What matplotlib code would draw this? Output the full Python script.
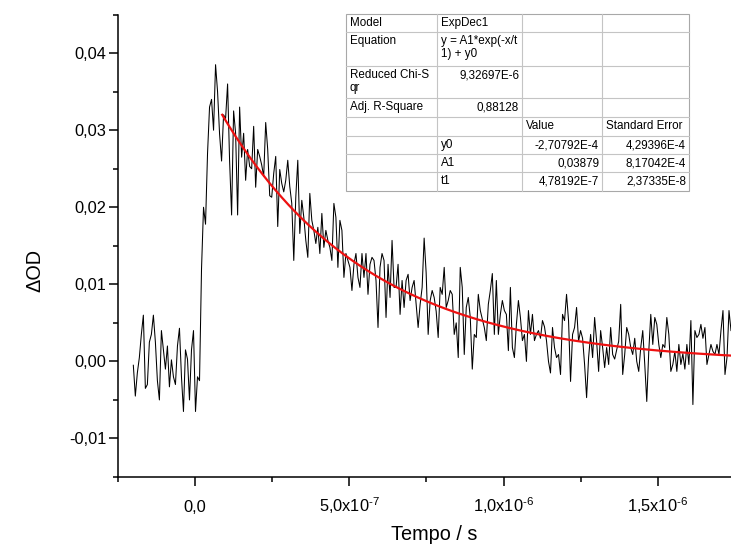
import numpy as np
import matplotlib.pyplot as plt
from matplotlib.ticker import MultipleLocator, FuncFormatter
from matplotlib.lines import Line2D
from matplotlib.patches import Rectangle

plt.rcParams['font.family'] = ['Liberation Sans', 'DejaVu Sans']
plt.rcParams['mathtext.fontset'] = 'custom'
plt.rcParams['mathtext.rm'] = 'Liberation Sans'
plt.rcParams['mathtext.default'] = 'regular'
plt.rcParams['axes.unicode_minus'] = False

# transient absorption trace (dOD in units of 1e-3), evenly sampled in time
t_start = -2.0e-7
t_step = 6.5e-9
dod_milli = [
    -0.5, -4.5, -1.5, 0.5, 3.5, 6.0, -3.5, -3.0, 2.5, 3.5,
    6.0, 2.5, -2.5, -5.0, 4.0, 1.5, -1.0, 2.0, -3.3, 0.2,
    -2.0, -3.0, 2.0, 4.3, -2.0, -6.5, 1.5, 0.3, -5.0, 1.5,
    4.0, -6.5, -2.0, -2.5, 12.0, 20.0, 17.8, 27.0, 33.0, 34.0,
    30.0, 38.5, 35.0, 29.5, 26.0, 32.0, 31.5, 36.0, 26.0, 19.0,
    32.5, 29.6, 19.0, 33.0, 26.5, 29.6, 23.5, 27.5, 25.3, 25.0,
    30.5, 22.6, 27.5, 26.6, 25.5, 24.0, 31.0, 27.5, 21.5, 21.3,
    24.4, 26.6, 17.5, 24.9, 23.1, 22.0, 23.5, 26.1, 22.7, 20.5,
    13.1, 21.3, 26.1, 16.6, 20.9, 18.7, 15.7, 13.5, 21.8, 18.3,
    17.0, 15.3, 17.4, 14.0, 19.2, 14.8, 17.0, 15.7, 14.8, 13.1,
    20.5, 18.7, 12.2, 18.3, 17.0, 10.9, 14.0, 13.1, 12.2, 9.2,
    12.6, 14.0, 10.9, 9.6, 14.0, 10.9, 14.0, 8.7, 12.6, 13.5,
    13.1, 10.5, 4.4, 12.2, 14.0, 13.1, 5.7, 12.6, 8.3, 15.7,
    9.6, 9.6, 12.6, 6.1, 10.5, 7.0, 10.5, 11.3, 7.9, 9.6,
    10.5, 7.5, 4.4, 7.4, 9.6, 16.0, 11.5, 3.5, 7.9, 9.2,
    8.3, 6.5, 3.1, 9.6, 8.7, 12.2, 7.0, 7.9, 9.2, 8.7,
    3.5, 5.0, 0.5, 12.2, 9.6, 0.9, 7.0, 8.3, 5.7, -1.0,
    3.5, 3.1, 8.7, 6.6, 5.5, 4.4, 2.7, 7.4, 9.2, 11.4,
    3.5, 10.5, 3.5, 6.1, 7.9, 6.6, 6.1, 1.4, 9.6, 1.8,
    0.5, 4.8, 7.9, 5.7, 2.7, 3.5, 0.0, 6.6, 3.5, 6.1,
    2.7, 3.5, 4.0, 3.0, 5.3, 4.5, 2.7, 0.0, -1.5, 4.4,
    1.8, 0.5, 0.9, -1.7, 6.1, 5.3, 8.7, 5.3, -2.6, 3.5,
    4.4, 7.0, 2.6, 4.0, 3.0, -0.4, -4.7, 0.5, 3.5, 0.5,
    5.7, 2.6, -1.3, 4.0, 1.8, -0.8, 1.8, -0.4, 4.4, 0.9,
    0.3, 1.5, 2.6, 7.4, -1.7, 0.9, 4.4, 3.5, 1.8, 0.9,
    3.0, 0.0, -1.3, 1.8, 4.0, -0.4, -5.2, 1.3, 6.1, 2.2,
    5.7, 4.8, 2.2, 0.5, 2.2, 1.8, 5.7, 3.5, -1.3, -0.4,
    1.3, -1.3, 2.2, -0.4, 1.0, -1.0, 2.2, -0.4, 5.3, -5.6,
    4.0, 3.1, 3.5, 4.8, 3.0, 4.4, -0.4, 0.9, 2.2, 1.3,
    0.9, 2.2, 0.9, 4.0, 6.6, -1.7, 0.5, 6.6, 4.0,
]

# ExpDec1 fit result
y0 = -2.70792e-4
A1 = 0.03879
t1 = 4.78192e-7
fit_start = 8.8e-8

table_text = [
    ["Model", "ExpDec1", "", ""],
    ["Equation", "y = A1*exp(-x/t\n1) + y0", "", ""],
    ["Reduced Chi-S\nqr", "9,32697E-6", "", ""],
    ["Adj. R-Square", "0,88128", "", ""],
    ["", "", "Value", "Standard Error"],
    ["", "y0", "-2,70792E-4", "4,29396E-4"],
    ["", "A1", "0,03879", "8,17042E-4"],
    ["", "t1", "4,78192E-7", "2,37335E-8"],
]
table_align = [
    "llll", "llll", "lrll", "lrll", "llll", "llrr", "llrr", "llrr",
]

t = t_start + t_step * np.arange(len(dod_milli))
dod = np.array(dod_milli) * 1e-3

W, H = 731, 546
fig = plt.figure(figsize=(W / 100, H / 100), dpi=100)
ax = fig.add_axes([117.9 / W, 1 - 477 / H, 1 - 117.9 / W, (477 - 14.6) / H])

ax.plot(t, dod, color='black', lw=0.75)
tf = np.linspace(fit_start, 1.8e-6, 400)
ax.plot(tf, A1 * np.exp(-tf / t1) + y0, color='#ee1111', lw=1.6)

ax.set_xlim(-2.5e-7, 1.737e-6)
ax.set_ylim(-0.015, 0.045)
for s in ['top', 'right']:
    ax.spines[s].set_visible(False)
for s in ['left', 'bottom']:
    ax.spines[s].set_linewidth(1.1)

ax.xaxis.set_major_locator(MultipleLocator(5e-7))
ax.xaxis.set_minor_locator(MultipleLocator(2.5e-7))
ax.yaxis.set_major_locator(MultipleLocator(0.01))
ax.yaxis.set_minor_locator(MultipleLocator(0.005))


def xfmt(v, pos):
    if abs(v) < 1e-12:
        return '0,0'
    e = int(np.floor(np.log10(abs(v))))
    m = v / 10 ** e
    return f'{m:.1f}'.replace('.', ',') + r'x10$^{\text{' + str(e) + '}}$'


ax.xaxis.set_major_formatter(FuncFormatter(xfmt))
ax.yaxis.set_major_formatter(FuncFormatter(lambda v, p: f'{v:.2f}'.replace('.', ',')))

ax.tick_params(which='major', direction='out', length=6.5, width=1.1, labelsize=11.8)
ax.tick_params(which='minor', direction='out', length=3.5, width=1.1)
ax.tick_params(axis='x', which='major', pad=19)
ax.tick_params(axis='y', which='major', pad=2)
plt.setp(ax.get_xticklabels(), va='baseline')

ax.set_xlabel('Tempo / s', fontsize=14.3, va='center')
ax.xaxis.set_label_coords((434 - 117.9) / 613.1, (477 - 534) / 462.4)
ax.set_ylabel('ΔOD', fontsize=14.3, va='center')
ax.yaxis.set_label_coords((35 - 117.9) / 613.1, (477 - 270) / 462.4)

# results table drawn in figure pixel coordinates
col_edges = [346, 437, 522, 602, 689]
row_edges = [14, 32, 66, 98, 117, 136, 154, 172, 191]


def fx(x):
    return x / W


def fy(y):
    return 1 - y / H


fig.add_artist(Rectangle((fx(col_edges[0]), fy(row_edges[-1])),
                         fx(col_edges[-1]) - fx(col_edges[0]),
                         fy(row_edges[0]) - fy(row_edges[-1]),
                         transform=fig.transFigure, facecolor='white',
                         edgecolor='#a8a8a8', lw=0.8, zorder=5))
for y in row_edges[1:-1]:
    fig.add_artist(Line2D([fx(col_edges[0]), fx(col_edges[-1])], [fy(y), fy(y)],
                          transform=fig.transFigure, color='#c4c4c4', lw=0.8, zorder=6))
for x in col_edges[1:-1]:
    fig.add_artist(Line2D([fx(x), fx(x)], [fy(row_edges[0]), fy(row_edges[-1])],
                          transform=fig.transFigure, color='#c4c4c4', lw=0.8, zorder=6))

for r, row in enumerate(table_text):
    for c, txt in enumerate(row):
        if not txt:
            continue
        if table_align[r][c] == 'l':
            x, ha = col_edges[c] + 4, 'left'
        else:
            x, ha = col_edges[c + 1] - 3, 'right'
        fig.text(fx(x), fy(row_edges[r] + 3), txt, ha=ha, va='top',
                 fontsize=8.4, linespacing=1.15, zorder=7)

fig.savefig('out.png', dpi=100)
